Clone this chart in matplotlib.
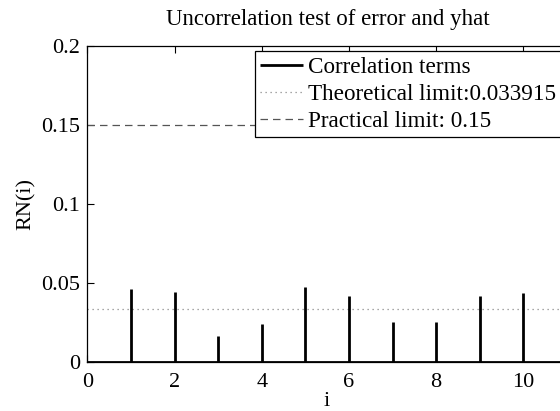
import matplotlib
matplotlib.use("Agg")
import matplotlib.pyplot as plt
import numpy as np

lags = [1, 2, 3, 4, 5, 6, 7, 8, 9, 10]
rn_values = [0.0462, 0.0445, 0.0165, 0.0242, 0.0475, 0.0420, 0.0257, 0.0253, 0.0418, 0.0437]
theoretical_limit = 0.033915
practical_limit = 0.15
xticks = [0, 2, 4, 6, 8, 10]
yticks = [0, 0.05, 0.1, 0.15, 0.2]
ytick_labels = ["0", "0.05", "0.1", "0.15", "0.2"]

plt.rcParams['font.family'] = ['Liberation Serif', 'DejaVu Serif']
plt.rcParams['mathtext.fontset'] = 'stix'

fig = plt.figure(figsize=(5.6, 4.11), dpi=100)
ax = fig.add_axes([87.3/560, 1-362.3/411, (567-87.3)/560, (362.3-46.3)/411])

ax.vlines(lags, 0, rn_values, colors='black', linewidth=2.0, label='Correlation terms', zorder=3)
ax.axhline(theoretical_limit, color='#8a8a8a', linestyle=(0, (1, 3)), linewidth=0.9,
           label='Theoretical limit:0.033915', zorder=2)
ax.axhline(practical_limit, color='#555555', linestyle=(0, (6, 4)), linewidth=0.9,
           label='Practical limit: 0.15', zorder=2)
ax.axhline(0, color='black', linewidth=2.0, zorder=3)

ax.set_xlim(0, 11)
ax.set_ylim(0, 0.2)
ax.set_xticks(xticks)
ax.set_xticklabels([str(t) for t in xticks])
ax.set_yticks(yticks)
ax.set_yticklabels(ytick_labels)
ax.tick_params(direction='in', top=True, right=True, length=5, width=0.8, labelsize=16)
ax.tick_params(axis='x', pad=8)
ax.tick_params(axis='y', pad=5)
for s in ax.spines.values():
    s.set_linewidth(0.9)

ax.set_xlabel('i', fontsize=16, labelpad=0)
ax.set_ylabel('RN(i)', fontsize=16, labelpad=4)
fig.text(328/560, 1-20/411, 'Uncorrelation test of error and yhat', fontsize=16.5,
         ha='center', va='center')

leg = ax.legend(loc='upper left', bbox_to_anchor=(254.5/560, 1-51/411),
                bbox_transform=fig.transFigure, fontsize=16.7, frameon=True,
                fancybox=False, framealpha=1, edgecolor='black', borderpad=0.24,
                handlelength=1.85, handletextpad=0.2, labelspacing=0.25, borderaxespad=0)
leg.get_frame().set_linewidth(0.9)

fig.savefig('out.png', dpi=100)
